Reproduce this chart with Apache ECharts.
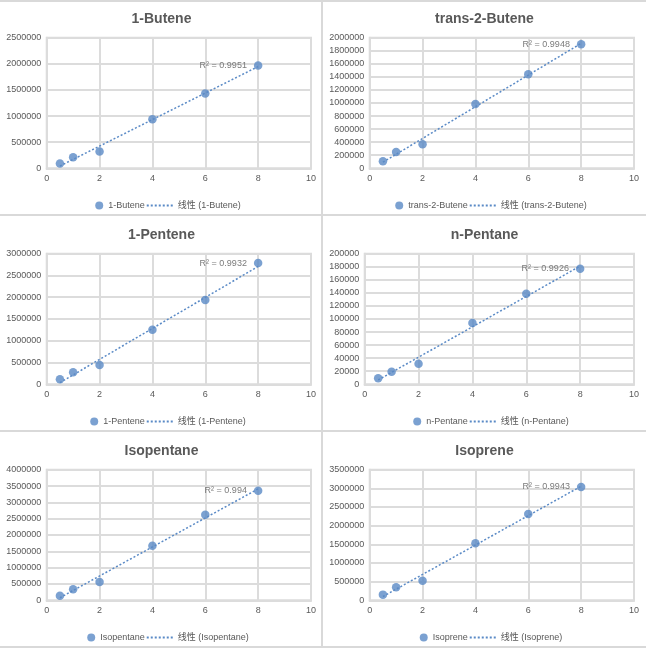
<!DOCTYPE html>
<html><head><meta charset="utf-8">
<script src="https://cdn.jsdelivr.net/npm/echarts@6/dist/echarts.min.js"></script>
<style>
body{margin:0;background:#fff;}
#wrap{position:relative;width:646px;height:648px;overflow:hidden;}
.p{position:absolute;width:323px;height:216px;}
.ln{position:absolute;background:#d9d9d9;}
</style></head>
<body><div id="wrap"></div>
<script>
// ---- data ----
const xConc = [0.5, 1, 2, 4, 6, 8];
const names = ['1-Butene', 'trans-2-Butene', '1-Pentene', 'n-Pentane', 'Isopentane', 'Isoprene'];
const butene1 = [90000, 210000, 320000, 940000, 1430000, 1970000];
const trans2Butene = [107000, 250000, 367000, 985000, 1440000, 1900000];
const pentene1 = [115000, 275000, 444000, 1255000, 1936000, 2785000];
const nPentane = [9200, 19400, 31600, 93900, 138800, 177000];
const isopentane = [143000, 337000, 561000, 1673000, 2620000, 3357000];
const isoprene = [152000, 348000, 527000, 1527000, 2310000, 3036000];
const rSquared = ['0.9951', '0.9948', '0.9932', '0.9926', '0.994', '0.9943'];
const yMax = [2500000, 2000000, 3000000, 200000, 4000000, 3500000];
const yStep = [500000, 200000, 500000, 20000, 500000, 500000];
const xMax = 10, xStep = 2;
const trendPrefix = '线性';

const seriesValues = [butene1, trans2Butene, pentene1, nPentane, isopentane, isoprene];
const BLUE = '#5a8ac6';
const TXT = '#595959';
const GRID = '#dcdcdc';
const FONT = '"Liberation Sans", Arial, "Noto Sans CJK SC", sans-serif';
const DOTTED_ICON = 'path://M0 0h2v2H0z M4 0h2v2H4z M8 0h2v2H8z M12 0h2v2h-2z M16 0h2v2h-2z M20 0h2v2h-2z M24 0h2v2h-2z';

const wrap = document.getElementById('wrap');
function line(l, t, w, h) {
  const d = document.createElement('div'); d.className = 'ln';
  d.style.cssText = `left:${l}px;top:${t}px;width:${w}px;height:${h}px`;
  wrap.appendChild(d);
}

const mc = document.createElement('canvas').getContext('2d');
mc.font = '9px ' + FONT;
function tw(s) { return mc.measureText(s).width; }

function fit(xs, ys) {
  const n = xs.length;
  let sx = 0, sy = 0, sxx = 0, sxy = 0;
  for (let i = 0; i < n; i++) { sx += xs[i]; sy += ys[i]; sxx += xs[i] * xs[i]; sxy += xs[i] * ys[i]; }
  const b = (n * sxy - sx * sy) / (n * sxx - sx * sx);
  const a = (sy - b * sx) / n;
  return [a, b];
}

for (let i = 0; i < 6; i++) {
  const col = i % 2, row = Math.floor(i / 2);
  const div = document.createElement('div'); div.className = 'p';
  div.style.left = (col * 323) + 'px'; div.style.top = (row * 216) + 'px';
  wrap.appendChild(div);
  const chart = echarts.init(div, null, { renderer: 'canvas' });
  const ys = seriesValues[i];
  const [a, b] = fit(xConc, ys);
  const x0 = xConc[0], x1 = xConc[xConc.length - 1];
  const trend = [[x0, a + b * x0], [x1, a + b * x1]];
  const pts = xConc.map((x, k) => [x, ys[k]]);
  const nm = names[i];
  const tnm = trendPrefix + ' (' + nm + ')';
  const maxChars = String(yMax[i]).length;
  const gridLeft = 11.7 + 5 * maxChars;
  const w1 = tw(nm), w2 = tw(tnm);
  const total = 8 + 5 + w1 + 2 + 26 + 5 + w2;
  const start = 163 - total / 2;
  const lastIdx = pts.length - 1;
  const scatterData = pts.map((p, k) => k === lastIdx ? {
    value: p,
    label: { show: true, position: 'left', distance: 7, formatter: 'R² = ' + rSquared[i], color: TXT, fontSize: 9, fontFamily: FONT }
  } : p);
  chart.setOption({
    animation: false,
    textStyle: { fontFamily: FONT },
    title: { text: nm, left: 'center', top: 7, textStyle: { fontSize: 14, fontWeight: 'bold', color: TXT, fontFamily: FONT } },
    grid: { left: gridLeft, right: 12, top: 37.7, bottom: 47.7, show: true, borderColor: GRID, borderWidth: 2 },
    xAxis: {
      type: 'value', min: 0, max: xMax, interval: xStep,
      axisLine: { show: true, onZero: false, lineStyle: { color: GRID, width: 2 } },
      axisTick: { show: false },
      axisLabel: { color: TXT, fontSize: 9, margin: 6, fontFamily: FONT },
      splitLine: { show: true, lineStyle: { color: GRID, width: 2 } }
    },
    yAxis: {
      type: 'value', min: 0, max: yMax[i], interval: yStep[i],
      axisLine: { show: true, lineStyle: { color: GRID, width: 2 } },
      axisTick: { show: false },
      axisLabel: { color: TXT, fontSize: 9, margin: 5.5, fontFamily: FONT, formatter: v => String(v) },
      splitLine: { show: true, lineStyle: { color: GRID, width: 2 } }
    },
    legend: [
      { data: [{ name: nm, icon: 'circle' }], left: start, top: 196, itemWidth: 8, itemHeight: 8, itemGap: 0,
        textStyle: { color: TXT, fontSize: 9, fontFamily: FONT } },
      { data: [{ name: tnm, icon: DOTTED_ICON }], left: start + 8 + 5 + w1 + 2, top: 196, itemWidth: 26, itemHeight: 2, itemGap: 0,
        textStyle: { color: TXT, fontSize: 9, fontFamily: FONT } }
    ],
    series: [
      { name: tnm, type: 'line', data: trend, symbol: 'none', silent: true, z: 1,
        lineStyle: { color: BLUE, width: 1.5, type: [2, 2] }, itemStyle: { color: BLUE } },
      { name: nm, type: 'scatter', data: scatterData, symbolSize: 8.5, z: 2,
        itemStyle: { color: BLUE } }
    ]
  });
}
// panel separators
line(0, 0, 646, 2);
line(0, 214, 646, 2);
line(0, 430, 646, 2);
line(0, 646, 646, 2);
line(321, 0, 2, 648);
</script>
</body></html>
